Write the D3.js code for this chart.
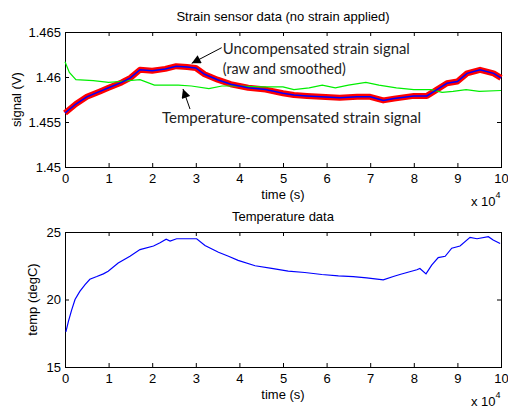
<!DOCTYPE html>
<html>
<head>
<meta charset="utf-8">
<script src="https://cdn.jsdelivr.net/npm/d3@7"></script>
<style>
  body { margin: 0; background: #fff; }
  svg { display: block; }
</style>
</head>
<body>
<div id="chart"></div>
<script>
// time axis in units of 1e4 s
const sigTime   = [0, 0.25, 0.5, 0.8, 1.0, 1.3, 1.5, 1.72, 2.0, 2.3, 2.55, 2.8, 3.0, 3.2, 3.5, 3.8, 4.2, 4.6, 5.0, 5.25, 5.55, 6.3, 6.7, 7.0, 7.3, 7.55, 8.0, 8.3, 8.53, 8.76, 9.0, 9.22, 9.52, 9.83, 10];
const smoothed  = [1.4560, 1.4570, 1.4578, 1.4584, 1.4588, 1.4594, 1.4599, 1.4608, 1.4607, 1.4609, 1.4612, 1.4611, 1.4610, 1.4603, 1.4597, 1.4592, 1.4588, 1.4586, 1.4582, 1.4580, 1.4579, 1.4577, 1.4578, 1.4578, 1.4574, 1.4576, 1.4579, 1.4579, 1.4586, 1.4593, 1.4595, 1.4604, 1.4608, 1.4604, 1.4599];

const compTime  = [0, 0.1, 0.25, 0.65, 1.0, 1.25, 1.72, 2.05, 2.6, 2.9, 3.3, 3.6, 4.0, 4.5, 5.0, 5.25, 5.6, 5.9, 6.2, 6.5, 6.9, 7.2, 7.6, 8.0, 8.4, 8.65, 8.9, 9.2, 9.5, 10];
const compensated = [1.4617, 1.4605, 1.4597, 1.4596, 1.4594, 1.4595, 1.4597, 1.4591, 1.4591, 1.4590, 1.4587, 1.4590, 1.4590, 1.4589, 1.4589, 1.4586, 1.4588, 1.4591, 1.4588, 1.4591, 1.4594, 1.4591, 1.4588, 1.4586, 1.4586, 1.4583, 1.4584, 1.4586, 1.4584, 1.4585];

const tempTime  = [0.02, 0.08, 0.15, 0.23, 0.34, 0.46, 0.57, 0.73, 0.88, 0.99, 1.22, 1.49, 1.72, 2.03, 2.18, 2.32, 2.41, 2.56, 3.02, 3.21, 3.52, 3.75, 3.97, 4.36, 4.74, 5.12, 5.50, 5.89, 6.27, 6.61, 6.92, 7.30, 7.53, 7.68, 8.07, 8.14, 8.28, 8.41, 8.56, 8.72, 8.87, 9.06, 9.29, 9.45, 9.71, 9.82, 9.98];
const temp      = [17.6, 18.4, 19.2, 20.0, 20.6, 21.1, 21.5, 21.7, 21.9, 22.1, 22.7, 23.2, 23.7, 23.96, 24.2, 24.46, 24.33, 24.5, 24.5, 24.0, 23.5, 23.2, 22.9, 22.5, 22.3, 22.1, 22.0, 21.85, 21.75, 21.7, 21.6, 21.45, 21.7, 21.85, 22.2, 22.3, 21.9, 22.55, 23.1, 23.2, 23.8, 23.96, 24.6, 24.5, 24.65, 24.4, 24.15];

const xTicks    = [0, 1, 2, 3, 4, 5, 6, 7, 8, 9, 10];
const sigTicks  = [1.45, 1.455, 1.46, 1.465];
const tempTicks = [15, 20, 25];

const W = 508, H = 408;
const FONT = "'Liberation Sans', Arial, sans-serif";

const svg = d3.select("#chart").append("svg")
  .attr("width", W).attr("height", H)
  .style("font-family", FONT);

// shared x scale, two panels
const x = d3.scaleLinear().domain([0, 10]).range([65, 501]);

function panel(top, bottom, yDomain, yTicks, yFmt, title, yLabel, yLabelX) {
  const y = d3.scaleLinear().domain(yDomain).range([bottom, top]);
  const g = svg.append("g");

  // inward ticks on all four sides, matlab style
  g.append("g").attr("transform", `translate(0,${bottom})`)
    .call(d3.axisBottom(x).tickValues(xTicks).tickSizeInner(-4).tickSizeOuter(0).tickPadding(7))
    .call(a => a.select(".domain").remove())
    .call(a => a.selectAll("text").attr("font-size", 13).attr("font-family", FONT).attr("fill", "#000"));
  g.append("g").attr("transform", `translate(0,${top})`)
    .call(d3.axisTop(x).tickValues(xTicks).tickSizeInner(-4).tickSizeOuter(0).tickFormat(""))
    .call(a => a.select(".domain").remove());
  g.append("g").attr("transform", `translate(${x.range()[0]},0)`)
    .call(d3.axisLeft(y).tickValues(yTicks).tickFormat(yFmt).tickSizeInner(-4).tickSizeOuter(0).tickPadding(4))
    .call(a => a.select(".domain").remove())
    .call(a => a.selectAll("text").attr("font-size", 13).attr("font-family", FONT).attr("fill", "#000"));
  g.append("g").attr("transform", `translate(${x.range()[1]},0)`)
    .call(d3.axisRight(y).tickValues(yTicks).tickSizeInner(-4).tickSizeOuter(0).tickFormat(""))
    .call(a => a.select(".domain").remove());

  g.append("rect")
    .attr("x", x.range()[0] + 0.5).attr("y", top + 0.5)
    .attr("width", x.range()[1] - x.range()[0]).attr("height", bottom - top)
    .attr("fill", "none").attr("stroke", "#000");

  svg.append("text")
    .attr("x", (x.range()[0] + x.range()[1]) / 2).attr("y", top - 11)
    .attr("text-anchor", "middle").attr("font-size", 13)
    .text(title);

  svg.append("text")
    .attr("x", (x.range()[0] + x.range()[1]) / 2).attr("y", bottom + 32)
    .attr("text-anchor", "middle").attr("font-size", 13)
    .text("time (s)");

  // exponent label "x 10^4"
  const ex = svg.append("text").attr("x", 471).attr("y", bottom + 39).attr("font-size", 13);
  ex.append("tspan").text("x 10");
  ex.append("tspan").attr("font-size", 9).attr("dy", -8).text("4");

  svg.append("text")
    .attr("transform", `translate(${yLabelX},${(top + bottom) / 2}) rotate(-90)`)
    .attr("text-anchor", "middle").attr("font-size", 13)
    .text(yLabel);

  return { g, y };
}

// ---- top: strain signal ----
const p1 = panel(32, 167, [1.45, 1.465], sigTicks,
  d => d === 1.46 ? "1.46" : d === 1.45 ? "1.45" : d3.format(".3f")(d),
  "Strain sensor data (no strain applied)", "signal (V)", 21);

const sigLine = d3.line().x(d => x(d[0])).y(d => p1.y(d[1]));

// raw signal drawn as a thick red trace, smoothed on top
p1.g.append("path").datum(d3.zip(sigTime, smoothed))
  .attr("d", sigLine).attr("fill", "none")
  .attr("stroke", "#ff0000").attr("stroke-width", 6).attr("stroke-linejoin", "round");
p1.g.append("path").datum(d3.zip(compTime, compensated))
  .attr("d", sigLine).attr("fill", "none")
  .attr("stroke", "#00ee00").attr("stroke-width", 1.2);
p1.g.append("path").datum(d3.zip(sigTime, smoothed))
  .attr("d", sigLine).attr("fill", "none")
  .attr("stroke", "#0000ff").attr("stroke-width", 1.5);

// annotations (data coords)
svg.append("defs").append("marker")
  .attr("id", "head").attr("viewBox", "0 0 10 10")
  .attr("refX", 10).attr("refY", 5)
  .attr("markerWidth", 11).attr("markerHeight", 9).attr("markerUnits", "userSpaceOnUse")
  .attr("orient", "auto")
  .append("path").attr("d", "M0,0 L10,5 L0,10 Z").attr("fill", "#000");

function arrow(t0, v0, t1, v1) {
  svg.append("line")
    .attr("x1", x(t0)).attr("y1", p1.y(v0))
    .attr("x2", x(t1)).attr("y2", p1.y(v1))
    .attr("stroke", "#000").attr("stroke-width", 1)
    .attr("marker-end", "url(#head)");
}
arrow(3.594, 1.46326, 2.906, 1.46152);
arrow(2.867, 1.45644, 2.706, 1.45867);

const ANN = "Lato, 'Open Sans', sans-serif";
function note(t, v, str, len) {
  svg.append("text")
    .attr("x", x(t)).attr("y", p1.y(v))
    .attr("font-family", ANN).attr("font-size", 15).attr("fill", "#222")
    .attr("textLength", len).attr("lengthAdjust", "spacingAndGlyphs")
    .text(str);
}
note(3.62, 1.46253, "Uncompensated strain signal", 187);
note(3.62, 1.46031, "(raw and smoothed)", 123);
note(2.225, 1.45487, "Temperature-compensated strain signal", 259);

// ---- bottom: temperature ----
const p2 = panel(232, 367, [15, 25], tempTicks, d3.format("d"),
  "Temperature data", "temp (degC)", 37);

p2.g.append("path").datum(d3.zip(tempTime, temp))
  .attr("d", d3.line().x(d => x(d[0])).y(d => p2.y(d[1])))
  .attr("fill", "none").attr("stroke", "#0000ff").attr("stroke-width", 1.2);
</script>
</body>
</html>
